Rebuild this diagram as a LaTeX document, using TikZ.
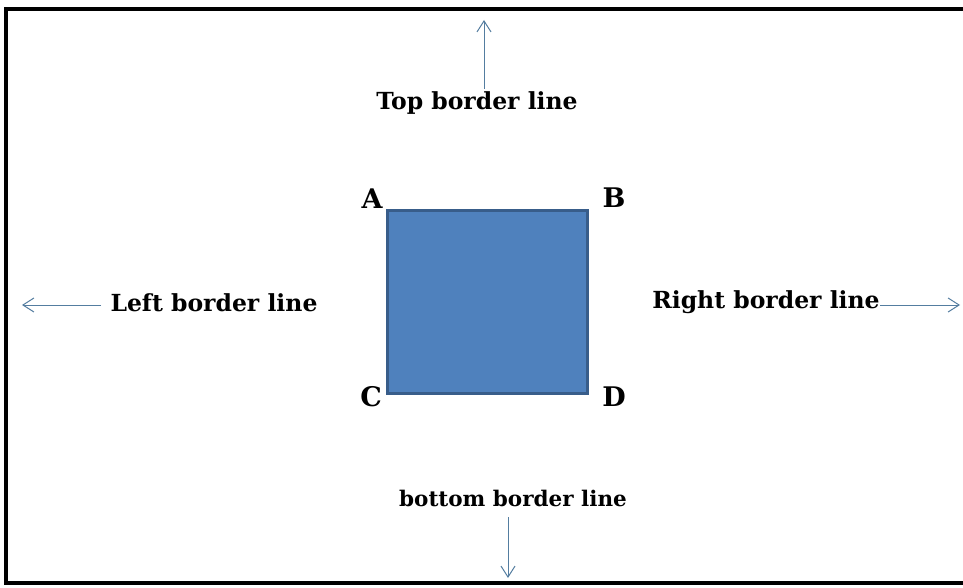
\documentclass[tikz,border=0pt]{standalone}
\usepackage{fontspec}
\setmainfont{DejaVu Serif}
\usetikzlibrary{arrows.meta}
\definecolor{arrowblue}{RGB}{84,125,160}
\definecolor{sqfill}{RGB}{79,129,189}
\definecolor{sqdraw}{RGB}{56,93,138}
\tikzset{
  lbl/.style={font=\bfseries\fontsize{23.5}{28}\selectfont, inner sep=0pt},
  corner/.style={font=\bfseries\fontsize{27}{32}\selectfont, inner sep=0pt},
  pointer/.style={draw=arrowblue, line width=1pt, -{Straight Barb[length=11pt,width=14pt,line width=1pt]}},
  frame/.style={draw=black, line width=4pt}
}
\begin{document}
\begin{tikzpicture}[x=1pt,y=-1pt]
\useasboundingbox (0,0) rectangle (963,588);
\fill[white] (0,0) rectangle (963,588);
\draw[frame] (966,9) -- (6,9) -- (6,583) -- (966,583);
\node[draw=sqdraw, fill=sqfill, line width=3pt, minimum width=200pt, minimum height=183pt, inner sep=0pt] (sq) at (487,301.5) {};
\node[corner] (A) at (372,199) {A};
\node[corner] (B) at (614,198) {B};
\node[corner] (C) at (371,397) {C};
\node[corner] (D) at (614,397) {D};
\node[lbl] (top) at (477,103) {Top border line};
\node[lbl] (left) at (214,303) {Left border line};
\node[lbl] (right) at (766,302) {Right border line};
\node[lbl, font=\bfseries\fontsize{21.5}{26}\selectfont] (bottom) at (513,498) {bottom border line};
\coordinate (tend) at (484,20);
\coordinate (lend) at (22,305);
\coordinate (rend) at (960,305);
\coordinate (bend) at (508,578);
\draw[pointer] (484,89) -- (tend);
\draw[pointer] (101,305) -- (lend);
\draw[pointer] (880,305) -- (rend);
\draw[pointer] (508,517) -- (bend);
\end{tikzpicture}
\end{document}
